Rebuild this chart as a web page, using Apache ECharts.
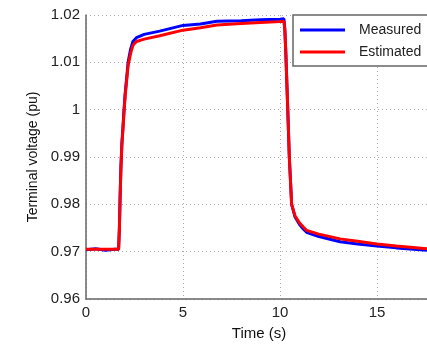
<!DOCTYPE html>
<html><head><meta charset="utf-8">
<script src="https://cdn.jsdelivr.net/npm/echarts@6/dist/echarts.min.js"></script>
<style>html,body{margin:0;padding:0;background:#fff}#c{width:427px;height:345px}</style>
</head><body><div id="c"></div>
<script>
const time = [0, 0.5, 1.0, 1.5, 1.68, 1.72, 1.76, 1.8, 1.85, 1.9, 1.96, 2.02, 2.08, 2.17, 2.3, 2.42, 2.6, 3.0, 3.8, 5.0, 5.9, 6.75, 8.0, 9.0, 10.0, 10.2, 10.25, 10.3, 10.4, 10.48, 10.6, 10.77, 11.0, 11.2, 11.37, 12.0, 13.1, 14.0, 15.0, 16.0, 17.6, 20];
const measured = [0.9704, 0.9706, 0.9703, 0.9705, 0.9705, 0.975, 0.982, 0.988, 0.993, 0.996, 1.0, 1.0035, 1.006, 1.010, 1.0128, 1.0144, 1.0152, 1.0159, 1.0166, 1.0178, 1.0181, 1.0187, 1.0188, 1.019, 1.0191, 1.0192, 1.017, 1.012, 1.0, 0.99, 0.98, 0.9774, 0.9758, 0.9748, 0.9741, 0.9732, 0.9721, 0.9716, 0.9712, 0.9708, 0.9703, 0.9700];
const estimated = [0.9705, 0.9705, 0.9705, 0.9705, 0.9705, 0.9745, 0.9815, 0.9875, 0.9925, 0.9955, 0.9995, 1.003, 1.0055, 1.0093, 1.0119, 1.0136, 1.0144, 1.0149, 1.0156, 1.0168, 1.0173, 1.0179, 1.0182, 1.0184, 1.0186, 1.0187, 1.0168, 1.012, 1.0, 0.99, 0.98, 0.9776, 0.9761, 0.9752, 0.9745, 0.9737, 0.9727, 0.9722, 0.9716, 0.9712, 0.9706, 0.9703];
const yTicks = [0.96, 0.97, 0.98, 0.99, 1, 1.01, 1.02];
const xTicks = [0, 5, 10, 15, 20];
const seriesNames = ['Measured', 'Estimated'];

const chart = echarts.init(document.getElementById('c'));
const font = 'Liberation Sans, Arial, sans-serif';
chart.setOption({
  animation: false,
  backgroundColor: '#fff',
  grid: { left: 86, top: 15, width: 388, height: 284, outerBoundsMode: 'none', containLabel: false },
  legend: {
    data: seriesNames,
    left: 293, top: 15,
    orient: 'vertical',
    backgroundColor: '#fff',
    borderColor: '#666', borderWidth: 1.5, borderRadius: 0,
    padding: [7, 60, 6, 7],
    itemGap: 6,
    icon: 'rect', itemWidth: 45, itemHeight: 3,
    textStyle: { fontFamily: font, fontSize: 14, color: '#222', padding: [0, 0, 0, 9], lineHeight: 16 }
  },
  xAxis: {
    type: 'value', min: xTicks[0], max: xTicks[xTicks.length - 1], interval: 5,
    name: 'Time (s)', nameLocation: 'middle', nameGap: 27,
    nameTextStyle: { fontFamily: font, fontSize: 15, color: '#111', padding: [0, 42, 0, 0] },
    axisLine: { lineStyle: { color: '#666', width: 1.5 } },
    axisTick: { show: false },
    axisLabel: { fontFamily: font, fontSize: 15, color: '#222', margin: 6 },
    splitLine: { show: true, lineStyle: { color: '#aaa', type: [1, 3], width: 1 } }
  },
  yAxis: {
    type: 'value', min: yTicks[0], max: yTicks[yTicks.length - 1], interval: 0.01,
    name: 'Terminal voltage (pu)', nameLocation: 'middle', nameGap: 45,
    nameTextStyle: { fontFamily: font, fontSize: 14, color: '#111' },
    axisLine: { show: true, lineStyle: { color: '#666', width: 1.5 } },
    axisTick: { show: false },
    axisLabel: { fontFamily: font, fontSize: 15, color: '#222', margin: 6,
      formatter: v => String(parseFloat(v.toFixed(2))) },
    splitLine: { show: true, lineStyle: { color: '#aaa', type: [1, 3], width: 1 } }
  },
  series: [
    { name: seriesNames[0], type: 'line', data: time.map((t, i) => [t, measured[i]]),
      showSymbol: false, lineStyle: { color: '#0000ff', width: 3 }, itemStyle: { color: '#0000ff' }, z: 2 },
    { name: seriesNames[1], type: 'line', data: time.map((t, i) => [t, estimated[i]]),
      showSymbol: false, lineStyle: { color: '#ff0000', width: 3 }, itemStyle: { color: '#ff0000' }, z: 3 }
  ]
});
</script>
</body></html>
